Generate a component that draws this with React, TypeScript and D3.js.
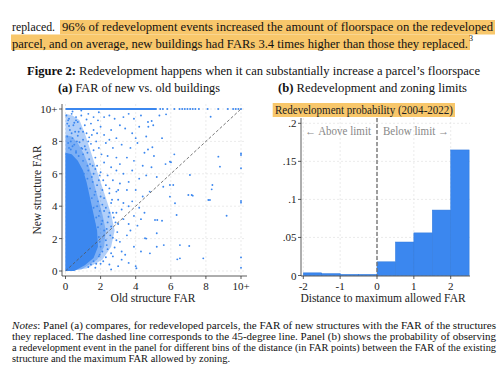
import React from "react";
import * as d3 from "d3";

// ---------- Panel (a) data ----------
const farTicks = [0, 2, 4, 6, 8, 10];
const farTickLabels = ["0", "2", "4", "6", "8", "10+"];
// dense core of the scatter cloud (old FAR, new FAR)
const coreOutline: [number, number][] = [
  [0, 0], [0.5, 0], [1.1, 0.35], [1.6, 0.8], [1.85, 1.5], [1.8, 2.5], [1.6, 3.5],
  [1.4, 4.5], [1.2, 5.5], [1.0, 6.2], [0.7, 6.8], [0.35, 7.2], [0, 7.3],
];
// denser inner part of the fringe
const innerFringeOutline: [number, number][] = [
  [0, 0], [0.9, 0.1], [1.8, 0.7], [2.2, 1.5], [2.3, 2.5], [2.1, 3.5], [1.85, 4.5],
  [1.6, 5.5], [1.35, 6.4], [1.05, 7.2], [0.7, 7.9], [0.35, 8.3], [0, 8.4],
];
// medium-density fringe of the cloud
const fringeOutline: [number, number][] = [
  [0, 0], [1.2, 0.15], [2.1, 0.7], [2.6, 1.5], [2.8, 2.5], [2.6, 3.5], [2.3, 4.5],
  [2.0, 5.5], [1.7, 6.5], [1.4, 7.5], [1.1, 8.5], [0.8, 9.3], [0.4, 9.6], [0, 9.7],
];
const fringePoints: [number, number][] = [
  [1.9,0.9],[2.1,1.2],[1.95,1.8],[2.2,2.2],[2.05,2.9],[2.4,3.0],[1.9,3.4],[2.2,3.7],[1.8,4.0],[2.0,4.6],
  [1.65,4.7],[1.8,5.3],[1.5,5.8],[1.7,6.3],[1.25,6.5],[1.0,6.8],[0.6,7.3],[0.9,7.6],[0.4,7.7],[0.2,7.6],
  [0.65,8.0],[0.35,8.5],[0.75,8.6],[0.15,9.3],[0.5,9.15],[1.0,8.6],[1.3,8.0],[1.15,7.5],[2.35,2.6],[2.5,3.6],
  [2.1,4.1],[1.55,6.5],[1.95,5.9],[2.15,5.6],[2.5,5.1],[2.65,4.4],[2.75,3.3],[2.55,2.2],[2.35,1.6],[2.15,0.6],
  [1.75,0.45],[1.45,0.4],[2.6,1.1],[2.9,1.9],[2.9,3.6],[3.0,2.9],
];
const upperPoints: [number, number][] = [
  [0.05,9.6],[0.2,9.4],[0.35,9.7],[0.6,9.5],[0.9,9.6],[1.3,9.7],[1.6,9.5],[0.1,9.1],[0.45,9.0],[0.7,9.2],
  [1.1,9.0],[1.45,9.1],[1.85,9.3],[0.25,8.7],[0.55,8.6],[0.85,8.8],[1.2,8.5],[1.6,8.7],[2.0,8.9],[0.1,8.3],
  [0.4,8.2],[0.7,8.35],[1.0,8.1],[1.35,8.25],[1.75,8.0],[2.2,8.4],[0.15,7.9],[0.5,7.8],[0.8,7.95],[1.1,7.7],
  [1.45,7.85],[1.9,7.6],[2.3,7.9],[0.3,7.5],[0.6,7.4],[0.95,7.55],[1.25,7.3],[1.6,7.45],[2.05,7.2],[0.05,7.2],
  [0.75,7.1],[1.35,6.9],[1.7,7.0],[2.4,7.1],[0.9,9.9],[1.9,9.8],[0.4,9.85],[2.5,9.6],[2.8,9.4],[2.2,9.5],
  [2.6,8.7],[2.9,8.2],[3.1,9.0],[2.7,7.6],[0.6,9.3],[1.5,8.4],[1.2,9.35],[0.3,8.0],[1.0,7.2],[1.8,8.5],[0.2,8.95],
];
const sidePoints: [number, number][] = [
  [1.4,6.6],[1.8,6.5],[2.2,6.7],[2.6,6.4],[1.3,6.2],[1.6,6.0],[2.0,6.1],[2.4,5.9],[2.9,6.2],[1.25,5.7],
  [1.55,5.5],[1.9,5.6],[2.3,5.3],[2.7,5.6],[3.1,5.4],[1.4,5.1],[1.7,4.9],[2.1,5.0],[2.5,4.8],[2.9,4.9],
  [1.5,4.5],[1.85,4.3],[2.2,4.5],[2.6,4.2],[3.0,4.4],[1.6,3.9],[1.95,3.7],[2.3,3.9],[2.7,3.6],[3.2,3.8],
  [1.75,3.3],[2.1,3.1],[2.45,3.35],[2.85,3.0],[3.3,3.2],[1.85,2.7],[2.2,2.5],[2.6,2.75],[2.95,2.4],[1.9,2.1],
  [2.3,1.9],[2.7,2.05],[3.1,1.8],[2.0,1.5],[2.4,1.35],[2.8,1.45],[1.95,1.0],[2.3,0.85],[2.7,0.9],[1.6,0.6],
  [2.0,0.45],[1.3,0.25],[1.7,0.2],[2.5,0.4],[3.2,1.2],[3.5,2.2],[3.4,1.0],[1.45,2.3],[1.55,1.7],[1.65,2.9],
  [1.35,3.6],[1.2,4.2],[1.1,5.0],[1.05,6.0],[3.6,2.9],[3.3,4.2],[3.5,5.0],[3.1,6.6],
];
const outerPoints: [number, number][] = [
  [3.3,9.5],[3.6,9.7],[3.9,9.4],[4.3,9.6],[4.7,9.2],[5.0,9.0],[3.4,8.8],[3.8,8.5],[4.2,8.9],[4.6,8.3],
  [3.2,7.8],[3.7,7.6],[4.1,7.9],[4.5,7.3],[3.5,7.0],[3.9,6.8],[4.4,6.5],[3.3,6.0],[3.8,6.2],[4.2,5.7],
  [4.6,5.9],[3.6,5.5],[4.0,5.0],[4.4,4.6],[3.8,4.3],[4.2,3.9],[3.9,3.4],[4.5,3.6],[4.8,4.9],[2.9,7.0],
  [2.5,8.1],[3.0,5.0],[4.9,6.4],[4.0,8.2],[3.6,4.0],[4.7,7.5],[4.3,3.2],[3.7,2.5],[4.1,2.8],[4.6,2.0],
  [3.9,1.5],[4.3,1.2],[3.2,0.7],[3.6,0.5],[4.0,0.3],[2.6,0.1],[3.0,0.3],
];
const farPoints: [number, number][] = [
  [5.73,9.67],[5.35,9.6],[8.27,9.52],[4.91,9.26],[4.72,8.9],[4.95,7.64],[5.04,7.1],[6.01,6.71],[6.14,5.31],[5.57,5.2],
  [5.95,4.59],[7.19,4.69],[7.09,5.93],[8.71,7.06],[8.8,6.44],[8.23,4.38],[8.37,5.31],[9.18,3.41],[5.23,3.15],[5.5,3.1],
  [4.53,2.02],[5.2,1.5],[6.52,0.78],[7.85,0.78],[6.52,1.6],[4.04,0.17],[5.95,5.31],[6.33,3.46],[6.24,4.18],[7.05,1.54],
  [7.0,4.69],[7.25,4.65],[5.1,3.15],[5.2,2.33],[5.6,1.6],[4.81,1.09],[5.95,6.75],[5.7,6.6],[6.37,0.72],[8.33,5.04],
  [8.14,4.38],[6.2,7.2],[5.5,8.2],[5.2,5.8],
];
const capColumnY = [7.26, 7.16, 6.34, 4.32, 4.22, 0.84, 0.2]; // old FAR = 10+
const capRowSolid = [0, 5.2]; // new FAR = 10+, continuous run
const capRowX = [5.4, 5.55, 5.8, 6.2, 6.5, 6.65, 6.8, 6.95, 7.1, 7.25, 7.4, 7.6, 8.1, 8.7, 9.25, 9.55, 9.7, 9.85, 10];

// ---------- Panel (b) data ----------
const binStarts = [-2, -1.5, -1, -0.5, 0, 0.5, 1, 1.5, 2];
const binWidth = 0.5;
const redevProb = [0.0035, 0.0025, 0.0015, 0.0015, 0.018, 0.044, 0.056, 0.086, 0.165];
const distTicks = [-2, -1, 0, 1, 2];
const probTicks = [0, 0.05, 0.1, 0.15, 0.2];
const probTickLabels = ["0", ".05", ".1", ".15", ".2"];

const BLUE = "#3b87ef";
const HILITE = "#f8c76b";
const SERIF = "'Liberation Serif', 'DejaVu Serif', serif";
const GRID = "#e2e2e2";

export default function App() {
  const xA = d3.scaleLinear().domain([0, 10]).range([65.5, 241]);
  const yA = d3.scaleLinear().domain([0, 10]).range([271, 109]);
  const xB = d3.scaleLinear().domain([-2, 2]).range([303.3, 450.7]);
  const yB = d3.scaleLinear().domain([0, 0.2]).range([275.5, 123.3]);

  const area = d3.line<[number, number]>().x(d => xA(d[0])).y(d => yA(d[1])).curve(d3.curveLinearClosed);
  const allPts = [...fringePoints, ...upperPoints, ...sidePoints, ...outerPoints, ...farPoints];

  return (
    <svg width={500} height={375} style={{ position: "absolute", left: 0, top: 0, background: "#fff" }} fontFamily={SERIF}>
      <rect width={500} height={375} fill="#fff" />
      {/* body text with highlight */}
      <rect x={60} y={20} width={435} height={14.5} fill={HILITE} />
      <rect x={11} y={34.5} width={459} height={15.5} fill={HILITE} />
      <text x={12} y={31} fontSize={12.5} textLength={43} lengthAdjust="spacingAndGlyphs" fill="#111">replaced.</text>
      <text x={62} y={31} fontSize={12.5} textLength={431} lengthAdjust="spacingAndGlyphs" fill="#111">
        96% of redevelopment events increased the amount of floorspace on the redeveloped
      </text>
      <text x={12} y={47.5} fontSize={12.5} textLength={456} lengthAdjust="spacingAndGlyphs" fill="#111">
        parcel, and on average, new buildings had FARs 3.4 times higher than those they replaced.
      </text>
      <text x={469} y={41} fontSize={8} fill="#111">3</text>

      <text x={27} y={75} fontSize={12.5} textLength={453} lengthAdjust="spacingAndGlyphs" fill="#111">
        <tspan fontWeight="bold">Figure 2:</tspan> Redevelopment happens when it can substantially increase a parcel’s floorspace
      </text>
      <text x={58} y={92} fontSize={12.5} textLength={162} lengthAdjust="spacingAndGlyphs" fill="#111">
        <tspan fontWeight="bold">(a)</tspan> FAR of new vs. old buildings
      </text>
      <text x={278} y={92} fontSize={12.5} textLength={189} lengthAdjust="spacingAndGlyphs" fill="#111">
        <tspan fontWeight="bold">(b)</tspan> Redevelopment and zoning limits
      </text>

      {/* ---------- Panel (a) ---------- */}
      <g>
        {farTicks.map(t => (
          <line key={"gx" + t} x1={xA(t)} x2={xA(t)} y1={104} y2={276} stroke={GRID} strokeWidth={0.7} strokeDasharray="2,2" />
        ))}
        {farTicks.map(t => (
          <line key={"gy" + t} x1={62} x2={246} y1={yA(t)} y2={yA(t)} stroke={GRID} strokeWidth={0.7} strokeDasharray="2,2" />
        ))}
        <path d={area(fringeOutline) || ""} fill={BLUE} opacity={0.4} />
        <path d={area(innerFringeOutline) || ""} fill={BLUE} opacity={0.45} />
        <path d={area(coreOutline) || ""} fill={BLUE} />
        {allPts.map((p, i) => (
          <circle key={"p" + i} cx={xA(p[0])} cy={yA(p[1])} r={0.95} fill={BLUE} />
        ))}
        {capColumnY.map((v, i) => (
          <circle key={"c" + i} cx={xA(10)} cy={yA(v)} r={0.95} fill={BLUE} />
        ))}
        <line x1={xA(capRowSolid[0])} x2={xA(capRowSolid[1])} y1={yA(10)} y2={yA(10)} stroke={BLUE} strokeWidth={2} />
        {capRowX.map((v, i) => (
          <circle key={"r" + i} cx={xA(v)} cy={yA(10)} r={1} fill={BLUE} />
        ))}
        <line x1={xA(0)} y1={yA(0)} x2={xA(10)} y2={yA(10)} stroke="#555" strokeWidth={0.8} strokeDasharray="3,2" />
        <line x1={62} x2={62} y1={104} y2={276} stroke="#333" strokeWidth={0.8} />
        <line x1={62} x2={247} y1={276} y2={276} stroke="#333" strokeWidth={0.8} />
        {farTicks.map((t, i) => (
          <g key={"ty" + t}>
            <line x1={59} x2={62} y1={yA(t)} y2={yA(t)} stroke="#333" strokeWidth={0.8} />
            <text x={57.5} y={yA(t) + 4} fontSize={11} textAnchor="end" fill="#222">{farTickLabels[i]}</text>
          </g>
        ))}
        {farTicks.map((t, i) => (
          <g key={"tx" + t}>
            <line x1={xA(t)} x2={xA(t)} y1={276} y2={279} stroke="#333" strokeWidth={0.8} />
            <text x={xA(t)} y={290} fontSize={11} textAnchor="middle" fill="#222">{farTickLabels[i]}</text>
          </g>
        ))}
        <text x={153} y={302} fontSize={11.5} textAnchor="middle" fill="#222">Old structure FAR</text>
        <text transform="translate(41,190) rotate(-90)" fontSize={11.5} textAnchor="middle" fill="#222">New structure FAR</text>
      </g>

      {/* ---------- Panel (b) ---------- */}
      <g>
        <rect x={272.7} y={103} width={182.3} height={14} fill={HILITE} />
        <text x={364} y={114} fontSize={11.5} textAnchor="middle" textLength={178} lengthAdjust="spacingAndGlyphs" fill="#222">
          Redevelopment probability (2004-2022)
        </text>
        {distTicks.map(t => (
          <line key={"bgx" + t} x1={xB(t)} x2={xB(t)} y1={118} y2={276} stroke={GRID} strokeWidth={0.7} strokeDasharray="2,2" />
        ))}
        {probTicks.map(t => (
          <line key={"bgy" + t} x1={301} x2={470} y1={yB(t)} y2={yB(t)} stroke={GRID} strokeWidth={0.7} strokeDasharray="2,2" />
        ))}
        {binStarts.map((s, i) => (
          <rect key={"bar" + i} x={xB(s)} y={yB(redevProb[i])} width={xB(s + binWidth) - xB(s)}
            height={yB(0) - yB(redevProb[i])} fill={BLUE} stroke="#2f78db" strokeWidth={0.5} />
        ))}
        <line x1={xB(0)} x2={xB(0)} y1={118} y2={276} stroke="#777" strokeWidth={1.4} strokeDasharray="4,2" />
        <text x={305} y={135} fontSize={11.5} textAnchor="start" textLength={66} lengthAdjust="spacingAndGlyphs" fill="#888">← Above limit</text>
        <text x={383} y={135} fontSize={11.5} textAnchor="start" textLength={66} lengthAdjust="spacingAndGlyphs" fill="#888">Below limit →</text>
        <line x1={301} x2={301} y1={118} y2={276} stroke="#333" strokeWidth={0.8} />
        <line x1={301} x2={470} y1={276} y2={276} stroke="#333" strokeWidth={0.8} />
        {probTicks.map((t, i) => (
          <g key={"bty" + t}>
            <line x1={298} x2={301} y1={yB(t)} y2={yB(t)} stroke="#333" strokeWidth={0.8} />
            <text x={296.5} y={yB(t) + 4} fontSize={11} textAnchor="end" fill="#222">{probTickLabels[i]}</text>
          </g>
        ))}
        {distTicks.map(t => (
          <g key={"btx" + t}>
            <line x1={xB(t)} x2={xB(t)} y1={276} y2={279} stroke="#333" strokeWidth={0.8} />
            <text x={xB(t)} y={290} fontSize={11} textAnchor="middle" fill="#222">{String(t)}</text>
          </g>
        ))}
        <text x={383} y={302} fontSize={11.5} textAnchor="middle" fill="#222">Distance to maximum allowed FAR</text>
      </g>

      {/* ---------- Notes ---------- */}
      <g fontSize={10} fill="#111">
        <text x={12} y={329} textLength={484} lengthAdjust="spacingAndGlyphs">
          <tspan fontStyle="italic">Notes</tspan>: Panel (a) compares, for redeveloped parcels, the FAR of new structures with the FAR of the structures
        </text>
        <text x={12} y={340} textLength={484} lengthAdjust="spacingAndGlyphs">
          they replaced.  The dashed line corresponds to the 45-degree line.  Panel (b) shows the probability of observing
        </text>
        <text x={12} y={351} textLength={484} lengthAdjust="spacingAndGlyphs">
          a redevelopment event in the panel for different bins of the distance (in FAR points) between the FAR of the existing
        </text>
        <text x={12} y={362} textLength={218} lengthAdjust="spacingAndGlyphs">
          structure and the maximum FAR allowed by zoning.
        </text>
      </g>
    </svg>
  );
}
